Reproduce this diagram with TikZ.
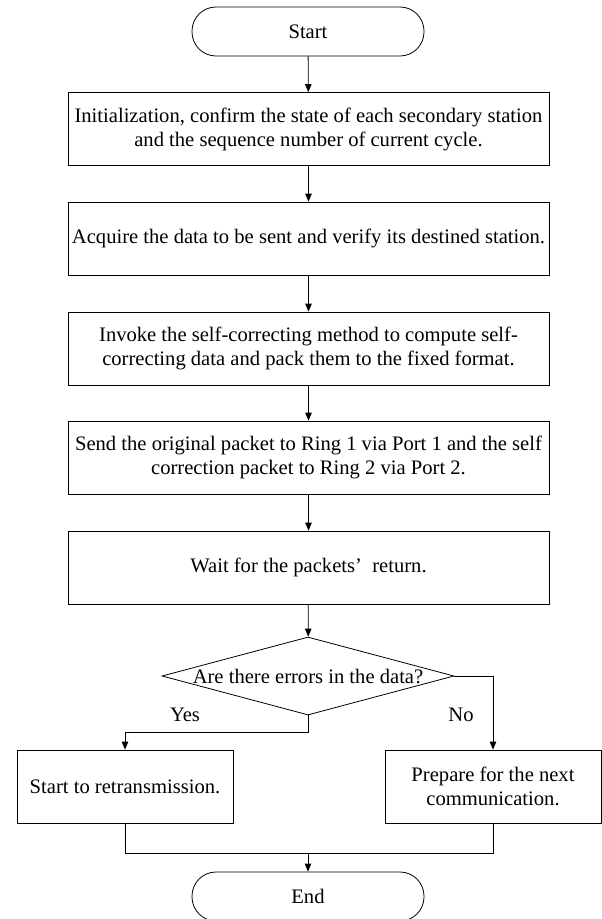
\documentclass[tikz,border=0pt]{standalone}
\usepackage{fontspec}
\setmainfont{Liberation Serif}
\usetikzlibrary{arrows.meta,shapes.geometric}
\begin{document}
\begin{tikzpicture}[x=1pt,y=-1pt,
  every node/.style={font=\fontsize{20.6}{24}\selectfont},
  box/.style={draw, line width=0.8pt, minimum width=481pt, minimum height=73pt, align=center, inner sep=0pt},
  sidebox/.style={draw, line width=0.8pt, minimum width=216pt, minimum height=73pt, align=center, inner sep=0pt},
  term/.style={draw, line width=0.8pt, rounded corners=24pt, minimum width=232pt, minimum height=49pt, inner sep=0pt},
  dec/.style={draw, diamond, line width=0.8pt, minimum width=292pt, minimum height=78pt, inner sep=0pt},
  arr/.style={line width=0.8pt, -{Triangle[length=8pt,width=6.5pt]}},
  ln/.style={line width=0.8pt}]
\useasboundingbox (0,0) rectangle (602,919);

\node[term] (start) at (308,31.5) {Start};
\node[box] (b1) at (308.5,129) {Initialization, confirm the state of each secondary station\\and the sequence number of current cycle.};
\node[box] (b2) at (308.5,238.5) {Acquire the data to be sent and verify its destined station.};
\node[box] (b3) at (308.5,348.5) {Invoke the self-correcting method to compute self-\\correcting data and pack them to the fixed format.};
\node[box] (b4) at (308.5,457.5) {Send the original packet to Ring 1 via Port 1 and the self\\correction packet to Ring 2 via Port 2.};
\node[box] (b5) at (308.5,567.5) {Wait for the packets’\hspace{0.5em}return.};
\node[dec] (q) at (308,676) {\makebox[0pt]{Are there errors in the data?}};
\node[sidebox] (yesbox) at (125,786.5) {Start to retransmission.};
\node[sidebox] (nobox) at (493,786.5) {Prepare for the next\\communication.};
\node[term] (stop) at (308,896.5) {End};

\node (yes) at (185,715) {Yes};
\node (no) at (461,715) {No};

\coordinate (join) at (308,853);

\draw[arr] (start) -- (b1);
\draw[arr] (b1) -- (b2);
\draw[arr] (b2) -- (b3);
\draw[arr] (b3) -- (b4);
\draw[arr] (b4) -- (b5);
\draw[arr] (b5) -- (q);
\draw[arr] (q.south) -- ++(0,17) -| (yesbox);
\draw[arr] (q.east) -| (nobox);
\draw[ln] (yesbox.south) |- (join) -| (nobox.south);
\draw[arr] (join) -- (stop);
\end{tikzpicture}
\end{document}
